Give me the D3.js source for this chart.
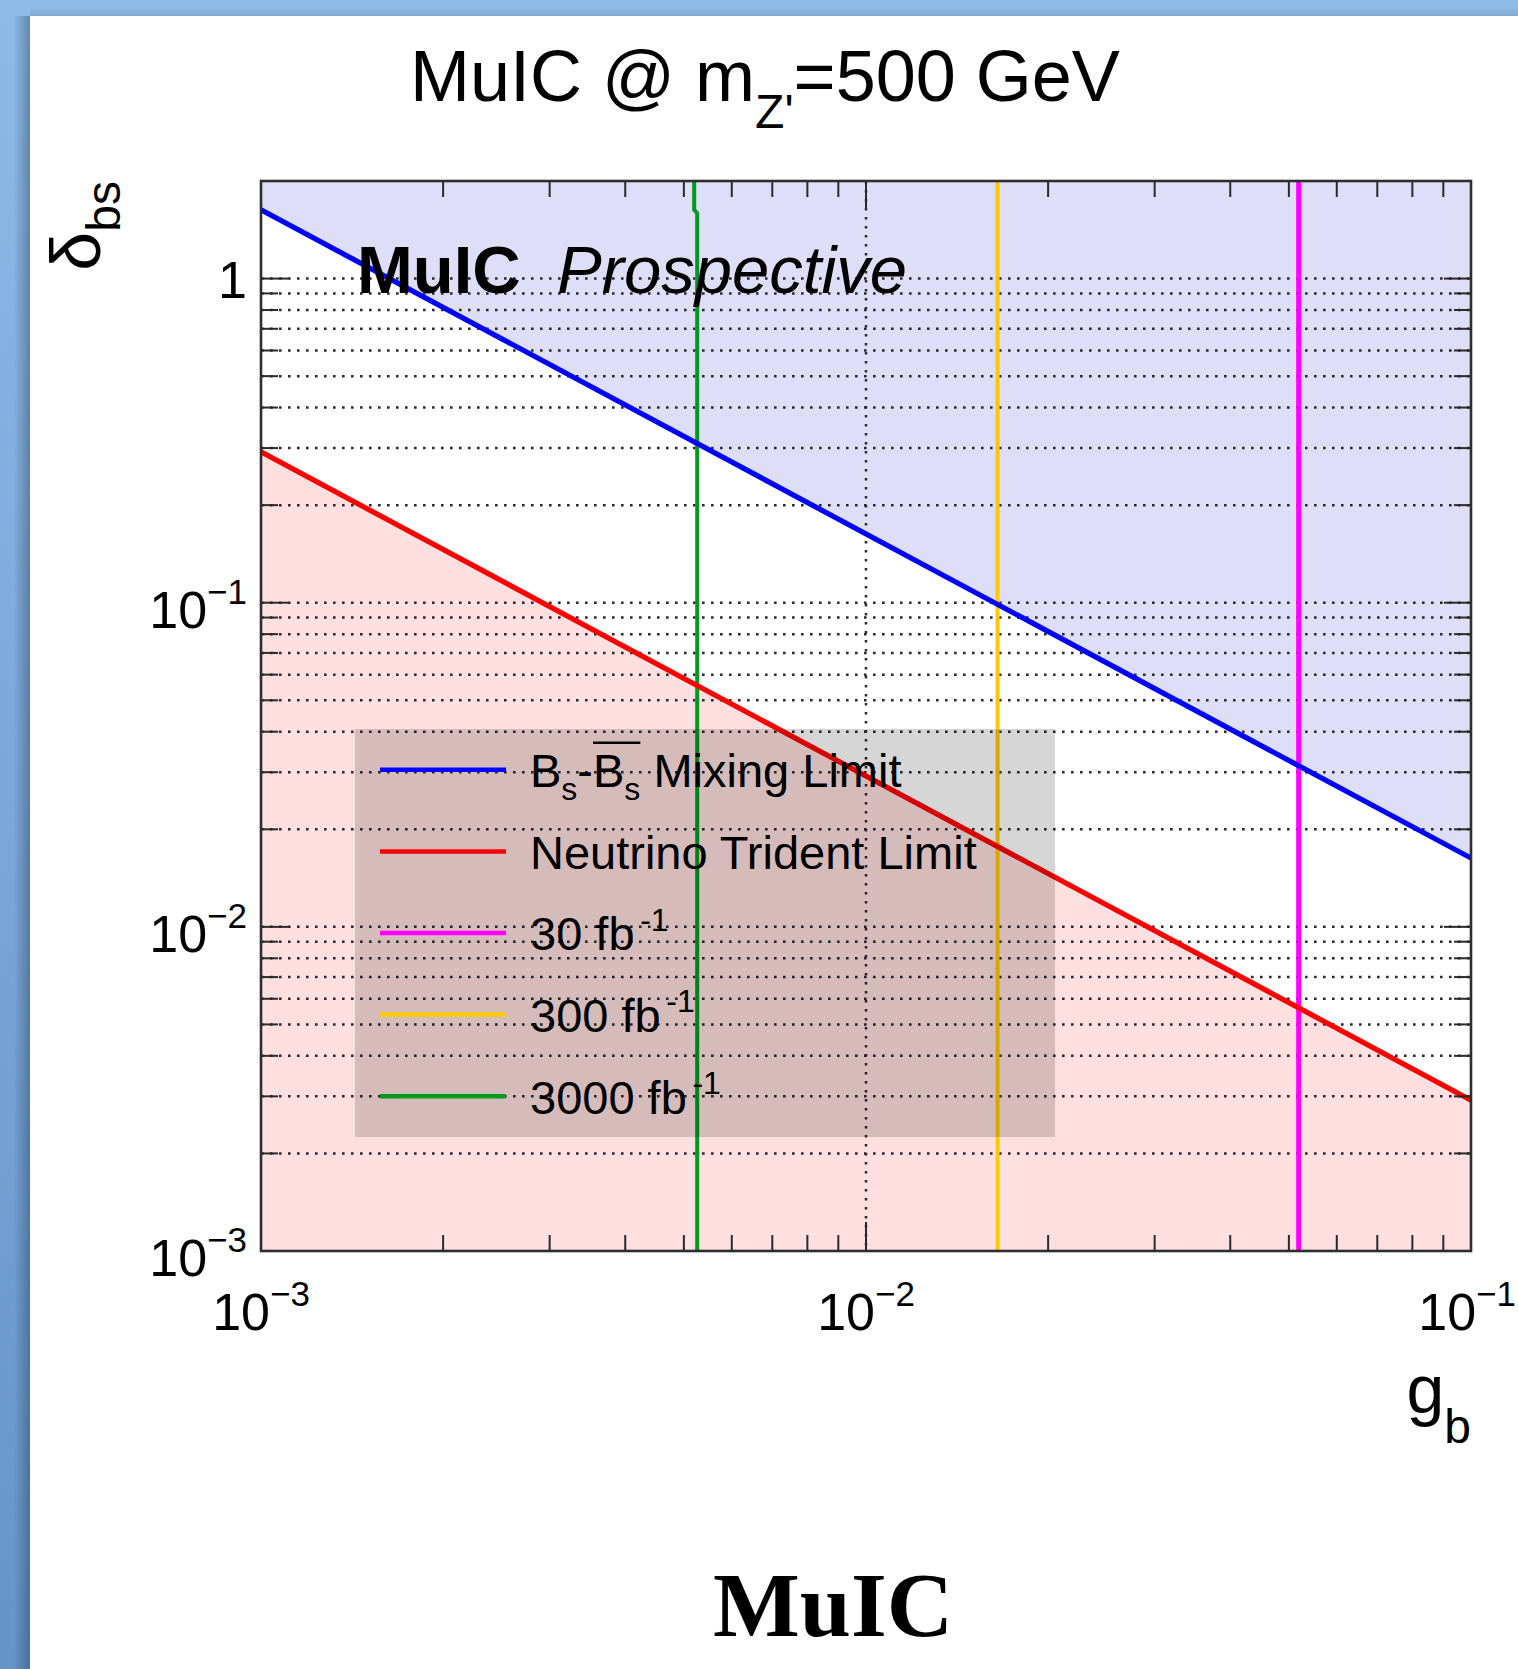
<!DOCTYPE html>
<html>
<head>
<meta charset="utf-8">
<script src="https://cdn.jsdelivr.net/npm/d3@7"></script>
<style>
  html, body { margin: 0; padding: 0; background: #fff; }
  svg { display: block; }
</style>
</head>
<body>
<svg id="chart" width="1518" height="1669"></svg>
<script>
// ---- data -------------------------------------------------------------
// coupling g_b at the ends of the limit curves
const gPoints = [0.001, 0.1];
// delta_bs limit from Bs-Bsbar mixing (excluded above)
const bsMixingLimit = [1.63, 0.0163];
// delta_bs limit from neutrino trident production (excluded below)
const tridentLimit = [0.292, 0.00292];

// MuIC reach contours for three integrated luminosities
const reach30G = [0.0519, 0.0519];
const reach30D = [0.001, 2];
const reach300G = [0.0165, 0.0165];
const reach300D = [0.001, 2];
const reach3000G = [0.00526, 0.00526, 0.00520, 0.00520];
const reach3000D = [0.001, 1.59, 1.63, 2];

// axis ticks and labels
const xMajor = [0.001, 0.01, 0.1];
const xBases = ["10", "10", "10"];
const xExponents = ["\u22123", "\u22122", "\u22121"];
const yMajor = [0.001, 0.01, 0.1, 1];
const yBases = ["10", "10", "10", "1"];
const yExponents = ["\u22123", "\u22122", "\u22121", ""];

// legend entries: text runs as [text, position]
const legendLabels = [
  [["B", "n"], ["s", "sub"], ["-", "n"], ["B", "n"], ["s", "sub"], [" Mixing Limit", "n"]],
  [["Neutrino Trident Limit", "n"]],
  [["30 fb", "n"], ["-1", "sup"]],
  [["300 fb", "n"], ["-1", "sup"]],
  [["3000 fb", "n"], ["-1", "sup"]]
];
const legendColors = ["#0000ff", "#ff0000", "#ff00ff", "#ffc800", "#009a1e"];

// ---- layout -----------------------------------------------------------
const W = 1518, H = 1669;
const plot = { left: 261, right: 1471, top: 181, bottom: 1251 };
const SANS = "'Liberation Sans', Arial, Helvetica, sans-serif";
const SERIF = "'Liberation Serif', 'Times New Roman', serif";

const svg = d3.select("#chart");
const defs = svg.append("defs");

// slide background: blue frame with a soft shadow along the panel edge
const bg = defs.append("linearGradient").attr("id", "bgGrad")
  .attr("x1", 0).attr("y1", 0).attr("x2", 0).attr("y2", 1);
bg.append("stop").attr("offset", "0%").attr("stop-color", "#8dbae6");
bg.append("stop").attr("offset", "100%").attr("stop-color", "#6594c8");
const sh = defs.append("linearGradient").attr("id", "shadowGrad")
  .attr("x1", 0).attr("y1", 0).attr("x2", 1).attr("y2", 0);
sh.append("stop").attr("offset", "0%").attr("stop-color", "#1c3450").attr("stop-opacity", 0);
sh.append("stop").attr("offset", "100%").attr("stop-color", "#1c3450").attr("stop-opacity", 0.38);
const shTop = defs.append("linearGradient").attr("id", "shadowTop")
  .attr("x1", 0).attr("y1", 0).attr("x2", 0).attr("y2", 1);
shTop.append("stop").attr("offset", "0%").attr("stop-color", "#1c3450").attr("stop-opacity", 0);
shTop.append("stop").attr("offset", "100%").attr("stop-color", "#1c3450").attr("stop-opacity", 0.12);

svg.append("rect").attr("width", W).attr("height", H).attr("fill", "url(#bgGrad)");
svg.append("rect").attr("x", 14).attr("y", 16).attr("width", 16).attr("height", H - 16)
  .attr("fill", "url(#shadowGrad)");
svg.append("rect").attr("x", 30).attr("y", 8).attr("width", W - 30).attr("height", 8)
  .attr("fill", "url(#shadowTop)");
svg.append("rect").attr("x", 30).attr("y", 16).attr("width", W - 30).attr("height", H - 16)
  .attr("fill", "#ffffff");

// ---- scales -----------------------------------------------------------
const x = d3.scaleLog().domain([1e-3, 1e-1]).range([plot.left, plot.right]);
const y = d3.scaleLog().domain([1e-3, 2]).range([plot.bottom, plot.top]);
const [yMin, yMax] = y.domain();

defs.append("clipPath").attr("id", "plotClip").append("rect")
  .attr("x", plot.left).attr("y", plot.top)
  .attr("width", plot.right - plot.left).attr("height", plot.bottom - plot.top);

const g = svg.append("g").attr("clip-path", "url(#plotClip)");

// ---- excluded regions -------------------------------------------------
const mixing = d3.zip(gPoints, bsMixingLimit);
const trident = d3.zip(gPoints, tridentLimit);

g.append("path").datum(mixing)
  .attr("d", d3.area().x(d => x(d[0])).y0(y(yMax)).y1(d => y(d[1])))
  .attr("fill", "#dedef8");
g.append("path").datum(trident)
  .attr("d", d3.area().x(d => x(d[0])).y0(y(yMin)).y1(d => y(d[1])))
  .attr("fill", "#ffdfdf");

// ---- grid -------------------------------------------------------------
const isMajor = v => Math.abs(Math.log10(v) - Math.round(Math.log10(v))) < 1e-9;
const yTicks = y.ticks().filter(v => v > yMin * 1.0001 && v < yMax * 0.9999);
const xTicks = x.ticks();

g.append("g").selectAll("line").data(yTicks).join("line")
  .attr("x1", plot.left).attr("x2", plot.right)
  .attr("y1", d => y(d)).attr("y2", d => y(d))
  .attr("stroke", "#2a2a2a").attr("stroke-width", 2.5)
  .attr("stroke-dasharray", "2.6 6.4");
g.append("g").selectAll("line")
  .data(xMajor.filter(v => v > 1e-3 && v < 1e-1)).join("line")
  .attr("x1", d => x(d)).attr("x2", d => x(d))
  .attr("y1", plot.top).attr("y2", plot.bottom)
  .attr("stroke", "#2a2a2a").attr("stroke-width", 2.5)
  .attr("stroke-dasharray", "2.6 6.4");

// ---- curves -----------------------------------------------------------
const line = d3.line().x(d => x(d[0])).y(d => y(d[1]));

const reach = [
  { pts: d3.zip(reach30G, reach30D), color: legendColors[2], w: 5 },
  { pts: d3.zip(reach300G, reach300D), color: legendColors[3], w: 4 },
  { pts: d3.zip(reach3000G, reach3000D), color: legendColors[4], w: 4 }
];
reach.forEach(r => {
  g.append("path").datum(r.pts).attr("d", line)
    .attr("fill", "none").attr("stroke", r.color).attr("stroke-width", r.w);
});

g.append("path").datum(mixing).attr("d", line)
  .attr("fill", "none").attr("stroke", legendColors[0]).attr("stroke-width", 5.2);
g.append("path").datum(trident).attr("d", line)
  .attr("fill", "none").attr("stroke", legendColors[1]).attr("stroke-width", 5.2);

// ---- legend -----------------------------------------------------------
const leg = { x0: 355, x1: 1055, y0: 729, y1: 1137 };
svg.append("rect")
  .attr("x", leg.x0).attr("y", leg.y0)
  .attr("width", leg.x1 - leg.x0).attr("height", leg.y1 - leg.y0)
  .attr("fill", "rgba(0,0,0,0.16)");

const rowScale = d3.scaleBand().domain(d3.range(legendLabels.length))
  .range([leg.y0, leg.y1]);
const legFont = 47;

function richText(parent, runs, size, xPos, yPos) {
  const t = parent.append("text")
    .attr("x", xPos).attr("y", yPos)
    .attr("font-family", SANS).attr("font-size", size).attr("fill", "#000");
  let offset = 0;
  runs.forEach(([txt, pos]) => {
    let target = 0, fs = size;
    if (pos === "sub") { target = 0.27 * size; fs = 0.68 * size; }
    if (pos === "sup") { target = -0.42 * size; fs = 0.68 * size; }
    t.append("tspan").attr("dy", target - offset).attr("font-size", fs)
      .attr("dx", pos === "sup" ? 0.12 * size : 0)
      .text(txt);
    offset = target;
  });
  return t;
}

legendLabels.forEach((runs, i) => {
  const cy = rowScale(i) + rowScale.bandwidth() / 2;
  svg.append("line")
    .attr("x1", 380).attr("x2", 506).attr("y1", cy).attr("y2", cy)
    .attr("stroke", legendColors[i]).attr("stroke-width", 4.5);
  const t = richText(svg, runs, legFont, 530, cy + 0.37 * legFont);
  if (i === 0) {
    // bar over the second B_s
    const node = t.node();
    const s = node.getStartPositionOfChar(3);
    const e = node.getEndPositionOfChar(4);
    svg.append("line")
      .attr("x1", s.x).attr("x2", e.x)
      .attr("y1", cy - 27).attr("y2", cy - 27)
      .attr("stroke", "#000").attr("stroke-width", 2.6);
  }
});

// ---- experiment label inside the frame ---------------------------------
svg.append("text").attr("x", 357).attr("y", 293)
  .attr("font-family", SANS).attr("font-size", 67).attr("font-weight", "bold")
  .text("MuIC");
svg.append("text").attr("x", 557).attr("y", 293)
  .attr("font-family", SANS).attr("font-size", 67).attr("font-style", "italic")
  .text("Prospective");

// ---- frame and ticks --------------------------------------------------
const axes = svg.append("g").attr("stroke", "#2a2a2a").attr("stroke-width", 2);
xTicks.forEach(v => {
  const len = isMajor(v) ? 29 : 16;
  const px = x(v);
  axes.append("line").attr("x1", px).attr("x2", px)
    .attr("y1", plot.bottom).attr("y2", plot.bottom - len);
  axes.append("line").attr("x1", px).attr("x2", px)
    .attr("y1", plot.top).attr("y2", plot.top + len);
});
y.ticks().forEach(v => {
  const len = isMajor(v) ? 27 : 17;
  const py = y(v);
  axes.append("line").attr("x1", plot.left).attr("x2", plot.left + len)
    .attr("y1", py).attr("y2", py);
  axes.append("line").attr("x1", plot.right).attr("x2", plot.right - len)
    .attr("y1", py).attr("y2", py);
});
svg.append("rect")
  .attr("x", plot.left).attr("y", plot.top)
  .attr("width", plot.right - plot.left).attr("height", plot.bottom - plot.top)
  .attr("fill", "none").attr("stroke", "#2e2e2e").attr("stroke-width", 2.6);

// ---- tick labels ------------------------------------------------------
const tickFont = 52, expFont = 35;
yMajor.forEach((v, i) => {
  const py = y(v);
  const t = svg.append("text")
    .attr("x", 247).attr("text-anchor", "end")
    .attr("font-family", SANS).attr("font-size", tickFont);
  if (yExponents[i]) {
    t.attr("y", py + 25);
    t.append("tspan").text(yBases[i]);
    t.append("tspan").attr("dy", -24).attr("font-size", expFont).text(yExponents[i]);
  } else {
    t.attr("y", py + 19).text(yBases[i]);
  }
});
xMajor.forEach((v, i) => {
  const px = x(v);
  const t = svg.append("text")
    .attr("x", px).attr("y", 1330).attr("text-anchor", "middle")
    .attr("font-family", SANS).attr("font-size", tickFont);
  t.append("tspan").text(xBases[i]);
  t.append("tspan").attr("dy", -24).attr("font-size", expFont).text(xExponents[i]);
  // keep the last label inside the page
  const box = t.node().getBBox();
  const over = box.x + box.width - (W - 2);
  if (over > 0) t.attr("x", px - over);
});

// ---- axis titles ------------------------------------------------------
const yTitle = svg.append("g").attr("transform", "translate(100,181) rotate(-90)")
  .append("text").attr("text-anchor", "end")
  .attr("font-family", SANS).attr("font-size", 70);
yTitle.append("tspan").text("\u03b4");
yTitle.append("tspan").attr("dy", 20).attr("font-size", 48).text("bs");

const xTitle = svg.append("text")
  .attr("x", plot.right).attr("y", 1413).attr("text-anchor", "end")
  .attr("font-family", SANS).attr("font-size", 68);
xTitle.append("tspan").text("g");
xTitle.append("tspan").attr("dy", 30).attr("font-size", 48).text("b");

// ---- title ------------------------------------------------------------
const title = svg.append("text")
  .attr("x", 410).attr("y", 101)
  .attr("font-family", SANS).attr("font-size", 72);
title.append("tspan").text("MuIC @ m");
title.append("tspan").attr("dy", 27).attr("font-size", 48).text("Z'");
title.append("tspan").attr("dy", -27).text("=500 GeV");

// ---- slide caption ----------------------------------------------------
svg.append("text")
  .attr("x", 833).attr("y", 1636).attr("text-anchor", "middle")
  .attr("font-family", SERIF).attr("font-weight", "bold").attr("font-size", 92)
  .text("MuIC");
</script>
</body>
</html>
